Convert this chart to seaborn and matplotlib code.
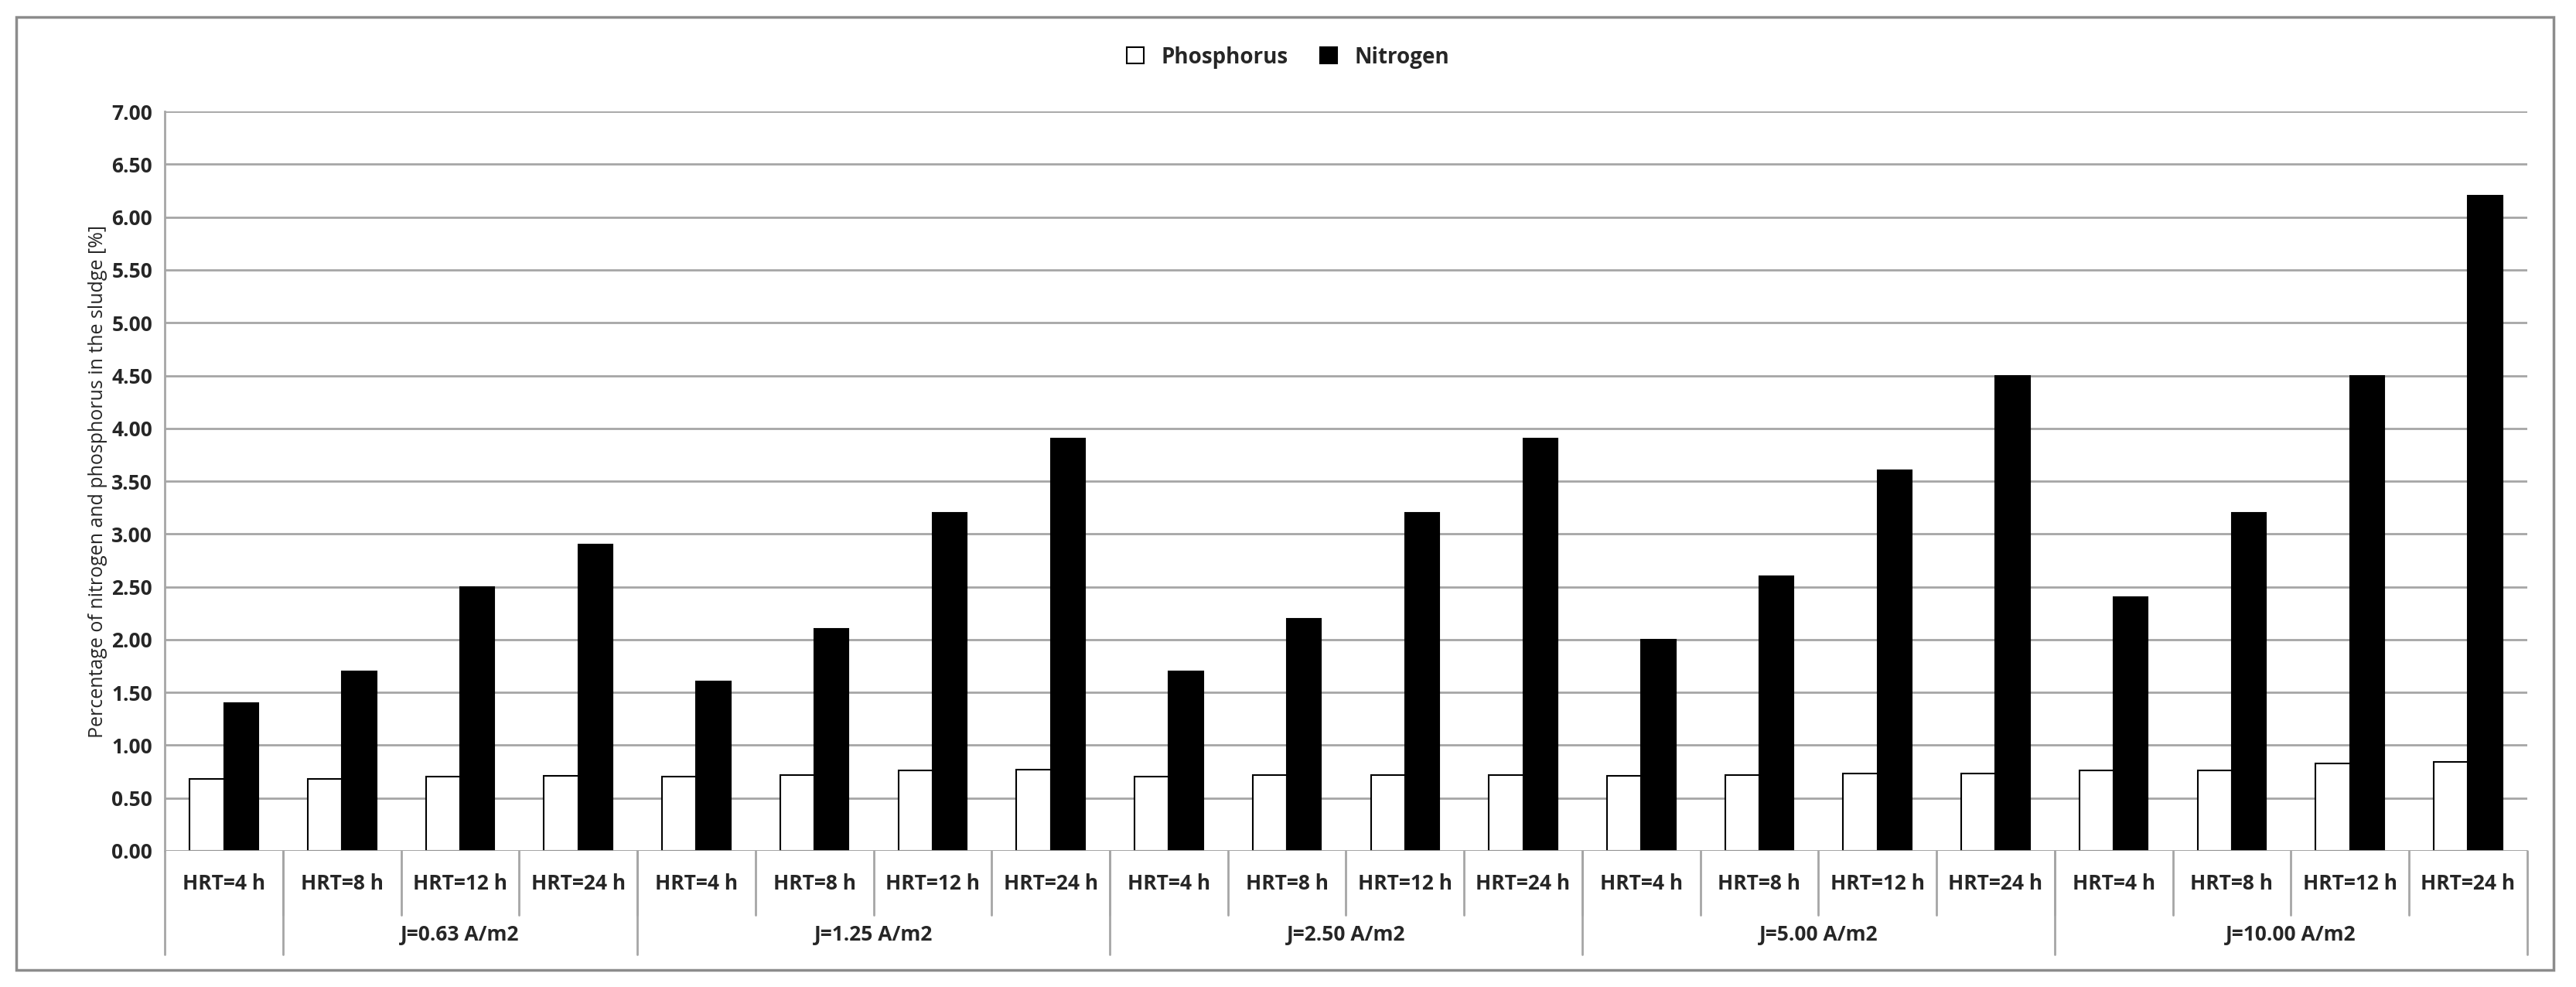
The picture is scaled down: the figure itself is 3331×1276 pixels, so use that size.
import pandas as pd
import matplotlib.pyplot as plt
import matplotlib.transforms as mtransforms
from matplotlib.patches import Rectangle
import seaborn as sns

hrt_labels = ["HRT=4 h", "HRT=8 h", "HRT=12 h", "HRT=24 h"] * 5
group_labels = ["J=0.63 A/m2", "J=1.25 A/m2", "J=2.50 A/m2", "J=5.00 A/m2", "J=10.00 A/m2"]
phosphorus = [0.68, 0.68, 0.70, 0.71, 0.70, 0.72, 0.76, 0.77, 0.70, 0.72, 0.72, 0.72,
              0.71, 0.72, 0.73, 0.73, 0.76, 0.76, 0.83, 0.84]
nitrogen = [1.4, 1.7, 2.5, 2.9, 1.6, 2.1, 3.2, 3.9, 1.7, 2.2, 3.2, 3.9,
            2.0, 2.6, 3.6, 4.5, 2.4, 3.2, 4.5, 6.2]

n = len(hrt_labels)
df = pd.DataFrame({
    "cat": list(range(n)) * 2,
    "value": phosphorus + nitrogen,
    "series": ["Phosphorus"] * n + ["Nitrogen"] * n,
})

sns.set_style("white")
plt.rcParams['font.family'] = ['Open Sans', 'DejaVu Sans']
plt.rcParams['font.weight'] = 'bold'

fig = plt.figure(figsize=(33.31, 12.76), dpi=100)
ax = fig.add_axes([0.064, 0.138, 0.917, 0.749])
sns.barplot(data=df, x="cat", y="value", hue="series", order=list(range(n)),
            palette={"Phosphorus": "white", "Nitrogen": "black"},
            edgecolor="black", linewidth=1.5, width=0.58, ax=ax)

ax.set_ylim(0, 7)
ax.set_xlim(-0.5, n - 0.5)
ax.set_yticks([i * 0.5 for i in range(15)])
ax.set_yticklabels([f"{i * 0.5:.2f}" for i in range(15)], fontsize=19, fontweight='bold')
ax.yaxis.grid(True, color="#a6a6a6", linewidth=2)
ax.set_axisbelow(True)
for s in ["top", "right", "bottom"]:
    ax.spines[s].set_visible(False)
ax.spines["left"].set_color("#a6a6a6")
ax.spines["left"].set_linewidth(2)
ax.axhline(0, color="#a6a6a6", linewidth=2)
ax.tick_params(axis="y", length=8, color="#a6a6a6")
ax.set_ylabel("Percentage of nitrogen and phosphorus in the sludge [%]", fontsize=18)
ax.set_xlabel("")
ax.set_xticks([])

trans = mtransforms.blended_transform_factory(ax.transData, ax.transAxes)
for i, lab in enumerate(hrt_labels):
    ax.text(i, -0.045, lab, transform=trans, ha="center", va="center", fontsize=19, fontweight='bold')
for i in range(1, n):
    ax.plot([i - 0.5, i - 0.5], [0, -0.087], transform=trans, color="#a6a6a6", lw=2, clip_on=False)
ax.plot([-0.5, -0.5], [0, -0.14], transform=trans, color="#a6a6a6", lw=2, clip_on=False)
# group boundaries (Excel-style shifted grouping)
bounds = [0.5, 3.5, 7.5, 11.5, 15.5, 19.5]
for b in bounds:
    ax.plot([b, b], [0, -0.14], transform=trans, color="#a6a6a6", lw=2, clip_on=False)
for g, lab in enumerate(group_labels):
    ax.text((bounds[g] + bounds[g + 1]) / 2, -0.114, lab, transform=trans,
            ha="center", va="center", fontsize=19, fontweight='bold')

handles, labels = ax.get_legend_handles_labels()
ax.legend(handles, labels, loc="center", bbox_to_anchor=(0.5, 0.942), bbox_transform=fig.transFigure,
          ncol=2, frameon=False, fontsize=20, handlelength=0.8, handleheight=0.8, columnspacing=1.5)

fig.patches.append(Rectangle((0.0064, 0.017), 0.985, 0.966, transform=fig.transFigure,
                             fill=False, edgecolor="#8c8c8c", linewidth=2.5))

fig.savefig("out.png", dpi=100)
